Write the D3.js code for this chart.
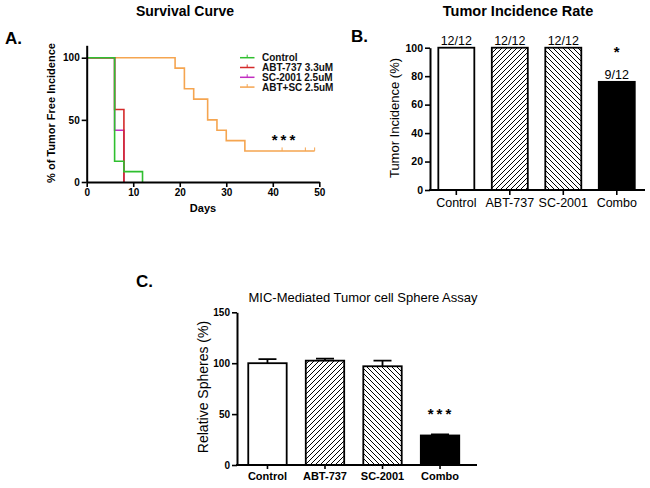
<!DOCTYPE html>
<html><head><meta charset="utf-8">
<script src="https://cdn.jsdelivr.net/npm/d3@7"></script>
<style>
body{margin:0;background:#fff;}
svg{display:block;}
text{font-family:"Liberation Sans",Arial,sans-serif;}
</style></head>
<body>
<svg id="c" width="650" height="488"></svg>
<script>
// ---------- Data ----------
// Panel A: Kaplan-Meier style step curves [day, % tumor free]
const survivalSeries = ["Control","ABT-737 3.3uM","SC-2001 2.5uM","ABT+SC 2.5uM"];
const controlCurve = [[0,100],[6,16.67],[8,8.33],[12,0]];
const abtCurve     = [[0,100],[6,58.33],[8,0]];
const scCurve      = [[0,100],[6,41.67],[8,0]];
const comboCurve   = [[0,100],[19,91.67],[21,75],[23,66.67],[26,50],[28,41.67],[30,33.33],[34,25],[49,25]];
const comboCensored = [42,47,49];
const survivalColors = ["#2fbf2f","#d42a2a","#c12ec1","#f5a550"];
const daysTicks = [0,10,20,30,40,50];
const survTicks = [0,50,100];

// Panel B: tumor incidence
const groups = ["Control","ABT-737","SC-2001","Combo"];
const incidence = [100,100,100,76];
const incidenceLabels = ["12/12","12/12","12/12","9/12"];
const incidenceTicks = [0,20,40,60,80,100];

// Panel C: sphere assay
const spheres = [100,102.5,97,29];
const spheresErr = [4,2,5.5,1];
const spheresTicks = [0,50,100,150];

const fills = ["#fff","url(#hatchF)","url(#hatchB)","#000"];

const svg = d3.select("#c");
const defs = svg.append("defs");
function hatch(id, d){
  const p = defs.append("pattern").attr("id",id).attr("patternUnits","userSpaceOnUse")
    .attr("width",5).attr("height",5);
  p.append("rect").attr("width",5).attr("height",5).attr("fill","#fff");
  p.append("path").attr("d",d).attr("stroke","#000").attr("stroke-width",1).attr("fill","none");
}
hatch("hatchF","M-1,1 L1,-1 M0,5 L5,0 M4,6 L6,4");
hatch("hatchB","M-1,4 L1,6 M0,0 L5,5 M4,-1 L6,1");

function styleAxis(g, fs, fw){
  g.selectAll("path.domain").attr("stroke","#000").attr("stroke-width",2);
  g.selectAll(".tick line").attr("stroke","#000").attr("stroke-width",1.6);
  g.selectAll(".tick text").attr("fill","#000").attr("font-size",fs).attr("font-weight",fw)
    .attr("font-family","'Liberation Sans',Arial,sans-serif");
}

// ---------- Panel A ----------
const xA = d3.scaleLinear().domain([0,50]).range([86.7,319.3]);
const yA = d3.scaleLinear().domain([0,110]).range([182,45.3]);

svg.append("text").attr("x",185).attr("y",16).attr("text-anchor","middle")
  .attr("font-family","Lato,'Open Sans',sans-serif").attr("font-weight","bold").attr("font-size",14)
  .text("Survival Curve");
svg.append("text").attr("x",5).attr("y",44).attr("font-family","Lato,'Open Sans',sans-serif")
  .attr("font-weight","bold").attr("font-size",17).text("A.");

const line = d3.line().x(d=>xA(d[0])).y(d=>yA(d[1])).curve(d3.curveStepAfter);
const curves = [controlCurve, abtCurve, scCurve, comboCurve];
// draw order: combo, sc, abt, control (control on top)
[3,2,1,0].forEach(i=>{
  svg.append("path").attr("d",line(curves[i])).attr("fill","none")
    .attr("stroke",survivalColors[i]).attr("stroke-width",1.6);
});
svg.selectAll(".cens").data(comboCensored).join("line")
  .attr("x1",d=>xA(d)).attr("x2",d=>xA(d)).attr("y1",yA(25)).attr("y2",yA(25)-3.5)
  .attr("stroke",survivalColors[3]).attr("stroke-width",1);

const gxA = svg.append("g").attr("transform",`translate(0,${yA(0)})`)
  .call(d3.axisBottom(xA).tickValues(daysTicks).tickSize(5).tickSizeOuter(0).tickPadding(2));
styleAxis(gxA,10,"bold");
const gyA = svg.append("g").attr("transform",`translate(${xA(0)},0)`)
  .call(d3.axisLeft(yA).tickValues(survTicks).tickSize(5).tickSizeOuter(0).tickPadding(2));
styleAxis(gyA,10,"bold");

svg.append("text").attr("x",203).attr("y",212).attr("text-anchor","middle")
  .attr("font-weight","bold").attr("font-size",11).text("Days");
svg.append("text").attr("transform","translate(55,113) rotate(-90)").attr("text-anchor","middle")
  .attr("font-weight","bold").attr("font-size",11).text("% of Tumor Free Incidence");
svg.append("text").attr("x",285).attr("y",145).attr("text-anchor","middle")
  .attr("font-weight","bold").attr("font-size",15).attr("letter-spacing",3).text("***");

// legend
survivalSeries.forEach((s,i)=>{
  const y = 57.7 + i*9.8;
  svg.append("line").attr("x1",240).attr("x2",254.5).attr("y1",y).attr("y2",y)
    .attr("stroke",survivalColors[i]).attr("stroke-width",1.5);
  svg.append("line").attr("x1",247.2).attr("x2",247.2).attr("y1",y).attr("y2",y-3)
    .attr("stroke",survivalColors[i]).attr("stroke-width",1);
  svg.append("text").attr("x",262).attr("y",y+3.5).attr("font-weight","bold")
    .attr("font-size",10).attr("fill","#111").text(s);
});

// ---------- Panel B ----------
const xB = d3.scaleBand().domain(groups).range([430.3,642.8]).paddingInner(0.327).paddingOuter(0.15);
const yB = d3.scaleLinear().domain([0,100]).range([190,47.7]);

svg.append("text").attr("x",518).attr("y",16).attr("text-anchor","middle")
  .attr("font-family","Lato,'Open Sans',sans-serif").attr("font-weight","bold").attr("font-size",14.5)
  .text("Tumor Incidence Rate");
svg.append("text").attr("x",351).attr("y",42).attr("font-family","Lato,'Open Sans',sans-serif")
  .attr("font-weight","bold").attr("font-size",17).text("B.");

svg.selectAll(".barB").data(groups).join("rect")
  .attr("x",d=>xB(d)).attr("width",xB.bandwidth())
  .attr("y",(d,i)=>yB(incidence[i])).attr("height",(d,i)=>yB(0)-yB(incidence[i]))
  .attr("fill",(d,i)=>fills[i]).attr("stroke","#000").attr("stroke-width",1.8);
svg.selectAll(".lblB").data(groups).join("text")
  .attr("x",d=>xB(d)+xB.bandwidth()/2).attr("y",(d,i)=>yB(incidence[i])-3)
  .attr("text-anchor","middle").attr("font-size",12.5)
  .text((d,i)=>incidenceLabels[i]);
svg.append("text").attr("x",xB("Combo")+xB.bandwidth()/2).attr("y",57).attr("text-anchor","middle")
  .attr("font-weight","bold").attr("font-size",15).text("*");

const gyB = svg.append("g").attr("transform",`translate(430,0)`)
  .call(d3.axisLeft(yB).tickValues(incidenceTicks).tickSize(5).tickSizeOuter(0).tickPadding(2));
styleAxis(gyB,10.5,"bold");
const gxB = svg.append("g").attr("transform",`translate(0,${yB(0)})`)
  .call(d3.axisBottom(xB).tickSize(5).tickSizeOuter(0).tickPadding(3));
styleAxis(gxB,12.5,"normal");
gxB.select("path.domain").remove();
svg.append("line").attr("x1",429).attr("x2",645).attr("y1",yB(0)).attr("y2",yB(0))
  .attr("stroke","#000").attr("stroke-width",2);
svg.append("text").attr("transform","translate(399,118) rotate(-90)").attr("text-anchor","middle")
  .attr("font-size",13).text("Tumor Incidence (%)");

// ---------- Panel C ----------
const xC = d3.scaleBand().domain(groups).range([231,476.5]).paddingInner(0.332).paddingOuter(0.3);
const yC = d3.scaleLinear().domain([0,150]).range([465,312.3]);

svg.append("text").attr("x",136).attr("y",287).attr("font-family","Lato,'Open Sans',sans-serif")
  .attr("font-weight","bold").attr("font-size",17).text("C.");
svg.append("text").attr("x",363).attr("y",302).attr("text-anchor","middle")
  .attr("font-size",13).text("MIC-Mediated Tumor cell Sphere Assay");

// error bars
svg.selectAll(".errC").data(groups).join("path")
  .attr("d",(d,i)=>{
    const cx = xC(d)+xC.bandwidth()/2, y0 = yC(spheres[i]), y1 = yC(spheres[i]+spheresErr[i]);
    return `M${cx},${y0} V${y1} M${cx-9},${y1} H${cx+9}`;
  }).attr("stroke","#000").attr("stroke-width",1.8).attr("fill","none");
svg.selectAll(".barC").data(groups).join("rect")
  .attr("x",d=>xC(d)).attr("width",xC.bandwidth())
  .attr("y",(d,i)=>yC(spheres[i])).attr("height",(d,i)=>yC(0)-yC(spheres[i]))
  .attr("fill",(d,i)=>fills[i]).attr("stroke","#000").attr("stroke-width",1.8);
svg.append("text").attr("x",xC("Combo")+xC.bandwidth()/2+1).attr("y",419).attr("text-anchor","middle")
  .attr("font-weight","bold").attr("font-size",15).attr("letter-spacing",3).text("***");

const gyC = svg.append("g").attr("transform",`translate(237,0)`)
  .call(d3.axisLeft(yC).tickValues(spheresTicks).tickSize(5).tickSizeOuter(0).tickPadding(2));
styleAxis(gyC,10,"bold");
const gxC = svg.append("g").attr("transform",`translate(0,${yC(0)})`)
  .call(d3.axisBottom(xC).tickSize(4).tickSizeOuter(0).tickPadding(3));
styleAxis(gxC,11,"bold");
gxC.select("path.domain").remove();
svg.append("line").attr("x1",236).attr("x2",477).attr("y1",yC(0)).attr("y2",yC(0))
  .attr("stroke","#000").attr("stroke-width",2);
svg.append("text").attr("transform","translate(208,387) rotate(-90)").attr("text-anchor","middle")
  .attr("font-size",14).text("Relative Spheres (%)");
</script>
</body></html>
